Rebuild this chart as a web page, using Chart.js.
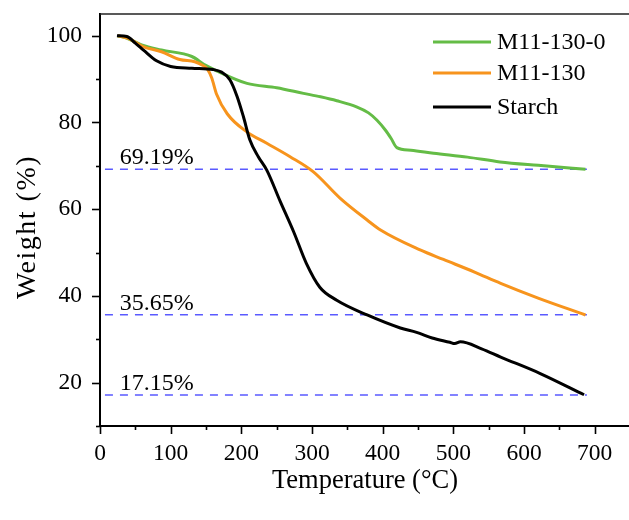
<!DOCTYPE html>
<html>
<head>
<meta charset="utf-8">
<script src="https://cdn.jsdelivr.net/npm/chart.js@4.4.1/dist/chart.umd.min.js"></script>
<style>
html,body{margin:0;padding:0;background:#fff;overflow:hidden;}
#wrap{width:629px;height:520px;overflow:hidden;}
canvas{display:block;}
</style>
</head>
<body>
<div id="wrap"><canvas id="c" width="640" height="520"></canvas></div>
<script>
// ---- data ----
const seriesNames = ['M11-130-0', 'M11-130', 'Starch'];

const tempGreen   = [25, 40, 60, 87, 130, 149, 165, 208, 250, 288, 312, 335, 363, 380, 392, 404, 412, 420, 440, 472, 520, 566, 620, 687];
const weightGreen = [100, 99.3, 97.8, 96.7, 95.2, 93.2, 91.9, 89.0, 88.0, 86.7, 85.9, 85.0, 83.6, 82.2, 80.5, 78.2, 76.3, 74.2, 73.6, 72.9, 72.0, 70.9, 70.1, 69.2];

const tempOrange   = [25, 40, 61, 87, 113, 134, 145, 152, 158, 165, 180, 208, 236, 269, 302, 340, 378, 397, 453, 486, 530, 567, 620, 687];
const weightOrange = [100, 99.4, 97.5, 96.3, 94.5, 94.0, 93.2, 92.3, 90.3, 86.5, 82.0, 77.8, 75.2, 72.1, 68.6, 62.5, 57.5, 55.2, 50.6, 48.4, 45.5, 42.9, 39.5, 35.6];

const tempBlack   = [24, 38, 50, 62, 80, 100, 130, 160, 172, 184, 194, 203, 212, 224, 236, 255, 274, 292, 311, 335, 378, 425, 448, 470, 495, 502, 510, 540, 567, 623, 685];
const weightBlack = [100, 99.8, 98.3, 96.6, 94.2, 92.9, 92.5, 92.2, 91.6, 89.8, 86.0, 81.3, 76.0, 72.1, 69.0, 61.8, 54.8, 47.5, 42.0, 39.0, 35.6, 32.6, 31.6, 30.3, 29.3, 29.0, 29.4, 27.8, 25.9, 22.1, 17.2];

const residualLevels = [69.19, 35.65, 17.15];
const residualLabels = ['69.19%', '35.65%', '17.15%'];
const refLineStart = 7, refLineEnd = 689, refLabelX = 28;

const xMin = 0, xMax = 750, xMajor = 100, xMinor = 50;
const yMin = 10, yMax = 105, yMajor = 20, yMinor = 10;

const colGreen = '#64bc46', colOrange = '#f7941d', colBlack = '#000000', colRef = '#5a5aff';

const pts = (xs, ys) => xs.map((x, i) => ({x: x, y: ys[i]}));
const FONT = '"Liberation Serif", "Times New Roman", serif';

const refSets = residualLevels.map(v => ({
  label: 'ref', data: [{x: refLineStart, y: v}, {x: refLineEnd, y: v}],
  borderColor: colRef, borderWidth: 1.6, borderDash: [8, 7], pointRadius: 0, order: 5, tension: 0
}));

const noPad = s => { s.paddingTop = 0; s.paddingBottom = 0; s.paddingLeft = 0; s.paddingRight = 0; };

const decor = {
  id: 'decor',
  afterDraw(chart) {
    const ctx = chart.ctx, xs = chart.scales.x, ys = chart.scales.y, a = chart.chartArea;
    ctx.save();
    // top frame line
    ctx.strokeStyle = '#222'; ctx.lineWidth = 1.5;
    ctx.beginPath(); ctx.moveTo(a.left, a.top); ctx.lineTo(a.right + 2, a.top); ctx.stroke();
    // ticks
    ctx.strokeStyle = '#000'; ctx.lineWidth = 1.6;
    for (let v = xMin; v <= xMax; v += xMinor) {
      const p = Math.round(xs.getPixelForValue(v)) + 0.5;
      const len = (v % xMajor === 0) ? 8 : 4;
      ctx.beginPath(); ctx.moveTo(p, a.bottom); ctx.lineTo(p, a.bottom + len); ctx.stroke();
    }
    for (let v = yMin; v <= 100; v += yMinor) {
      const p = Math.round(ys.getPixelForValue(v)) + 0.5;
      const len = (v % yMajor === 0) ? 8 : 4;
      ctx.beginPath(); ctx.moveTo(a.left, p); ctx.lineTo(a.left - len, p); ctx.stroke();
    }
    // residual labels
    ctx.fillStyle = '#000'; ctx.font = '24px ' + FONT; ctx.textBaseline = 'alphabetic'; ctx.textAlign = 'left';
    residualLevels.forEach((v, i) => {
      ctx.fillText(residualLabels[i], xs.getPixelForValue(refLabelX), ys.getPixelForValue(v) - 5);
    });
    // y axis title
    ctx.save();
    ctx.translate(28, (a.top + a.bottom) / 2 + 7);
    ctx.rotate(-Math.PI / 2);
    ctx.font = '28px ' + FONT; ctx.textAlign = 'center'; ctx.textBaseline = 'middle';
    try { ctx.letterSpacing = '1.5px'; } catch (e) {}
    ctx.fillText('Weight (%)', 0, 0);
    ctx.restore();
    // legend
    const cols = [colGreen, colOrange, colBlack];
    const ly = [42, 73, 107];
    ctx.font = '24px ' + FONT; ctx.textBaseline = 'middle';
    seriesNames.forEach((n, i) => {
      ctx.strokeStyle = cols[i]; ctx.lineWidth = 3;
      ctx.beginPath(); ctx.moveTo(433, ly[i]); ctx.lineTo(491, ly[i]); ctx.stroke();
      ctx.fillStyle = '#000';
      ctx.fillText(n, 497, ly[i] + 1);
    });
    ctx.restore();
  }
};

new Chart(document.getElementById('c'), {
  type: 'line',
  data: {
    datasets: [
      {label: seriesNames[2], data: pts(tempBlack, weightBlack), borderColor: colBlack, borderWidth: 3, pointRadius: 0, cubicInterpolationMode: 'monotone', order: 0},
      {label: seriesNames[1], data: pts(tempOrange, weightOrange), borderColor: colOrange, borderWidth: 3, pointRadius: 0, cubicInterpolationMode: 'monotone', order: 1},
      {label: seriesNames[0], data: pts(tempGreen, weightGreen), borderColor: colGreen, borderWidth: 3, pointRadius: 0, cubicInterpolationMode: 'monotone', order: 2},
      ...refSets
    ]
  },
  options: {
    responsive: false, animation: false,
    layout: {padding: {top: 14, right: 10, left: 0, bottom: 0}},
    plugins: {legend: {display: false}, tooltip: {enabled: false}},
    scales: {
      x: {
        type: 'linear', min: xMin, max: xMax,
        afterFit: s => { s.height = 94; noPad(s); },
        afterBuildTicks: s => { s.ticks = []; for (let v = xMin; v <= 700; v += xMajor) s.ticks.push({value: v}); },
        grid: {display: false, drawTicks: false},
        border: {display: true, color: '#000', width: 2},
        ticks: {color: '#000', font: {family: FONT, size: 23.5}, padding: 14, maxRotation: 0, autoSkip: false},
        title: {display: true, text: 'Temperature (°C)', color: '#000', font: {family: FONT, size: 26.5}, padding: {top: 0, bottom: 23}}
      },
      y: {
        type: 'linear', min: yMin, max: yMax,
        afterFit: s => { s.width = 100; noPad(s); },
        afterBuildTicks: s => { s.ticks = []; for (let v = 20; v <= 100; v += yMajor) s.ticks.push({value: v}); },
        grid: {display: false, drawTicks: false},
        border: {display: true, color: '#000', width: 2},
        ticks: {color: '#000', font: {family: FONT, size: 23.5}, padding: 18},
        title: {display: false}
      }
    }
  },
  plugins: [decor]
});
</script>
</body>
</html>
